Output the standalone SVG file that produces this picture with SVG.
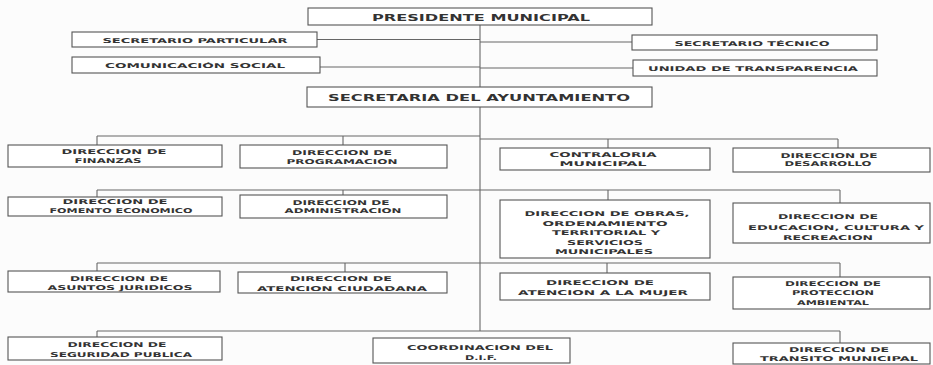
<svg xmlns="http://www.w3.org/2000/svg" width="933" height="365" viewBox="0 0 933 365">
<style>
.bx{fill:#fff;stroke:#555;stroke-width:1.1}
.ln{stroke:#666;stroke-width:1.1;fill:none}
text{font-family:"DejaVu Sans","Liberation Sans",sans-serif;font-weight:bold;fill:#333;text-anchor:middle;font-size:6.6px}
.t1{font-size:9.5px}
.t2{font-size:8.5px}
</style>
<rect width="933" height="365" fill="#fcfcfc"/>
<g id="connectors" class="ln">
<line x1="480" y1="25" x2="480" y2="331"/>
<line x1="317" y1="39.5" x2="480" y2="39.5"/>
<line x1="480" y1="42" x2="632" y2="42"/>
<line x1="320" y1="67" x2="480" y2="67"/>
<line x1="480" y1="68" x2="633" y2="68"/>
<line x1="97" y1="136" x2="480" y2="136"/>
<line x1="480" y1="139" x2="838" y2="139"/>
<line x1="97" y1="136" x2="97" y2="145"/>
<line x1="343" y1="136" x2="343" y2="145"/>
<line x1="608" y1="139" x2="608" y2="148"/>
<line x1="838" y1="139" x2="838" y2="148"/>
<line x1="97" y1="190" x2="840" y2="190"/>
<line x1="97" y1="190" x2="97" y2="197"/>
<line x1="343" y1="190" x2="343" y2="195"/>
<line x1="608" y1="190" x2="608" y2="200"/>
<line x1="840" y1="190" x2="840" y2="203"/>
<line x1="97" y1="263" x2="840" y2="263"/>
<line x1="97" y1="263" x2="97" y2="271"/>
<line x1="345" y1="263" x2="345" y2="272"/>
<line x1="607" y1="263" x2="607" y2="273"/>
<line x1="840" y1="263" x2="840" y2="277"/>
<line x1="97" y1="331" x2="840" y2="331"/>
<line x1="97" y1="331" x2="97" y2="337"/>
<line x1="840" y1="331" x2="840" y2="343"/>
</g>
<g id="presidente"><rect class="bx" x="308" y="8" width="344" height="17"/><text class="t1" x="481" y="20.5" textLength="218" lengthAdjust="spacingAndGlyphs">PRESIDENTE MUNICIPAL</text></g>
<g id="sec-particular"><rect class="bx" x="72" y="32" width="245" height="15"/><text x="195" y="42.5" textLength="185" lengthAdjust="spacingAndGlyphs">SECRETARIO PARTICULAR</text></g>
<g id="comunicacion"><rect class="bx" x="72" y="57" width="248" height="16"/><text x="195" y="68" textLength="180" lengthAdjust="spacingAndGlyphs">COMUNICACIÓN SOCIAL</text></g>
<g id="sec-tecnico"><rect class="bx" x="632" y="35" width="245" height="15"/><text x="752" y="45.5" textLength="155" lengthAdjust="spacingAndGlyphs">SECRETARIO TÉCNICO</text></g>
<g id="transparencia"><rect class="bx" x="633" y="60" width="244" height="16"/><text x="753" y="71" textLength="210" lengthAdjust="spacingAndGlyphs">UNIDAD DE TRANSPARENCIA</text></g>
<g id="sec-ayuntamiento"><rect class="bx" x="307" y="87" width="345" height="20"/><text class="t2" x="479" y="100.5" textLength="302" lengthAdjust="spacingAndGlyphs">SECRETARIA DEL AYUNTAMIENTO</text></g>
<g id="finanzas"><rect class="bx" x="8" y="145" width="214" height="22"/><text x="114" y="154" textLength="105" lengthAdjust="spacingAndGlyphs">DIRECCION DE</text><text x="108" y="163" textLength="67" lengthAdjust="spacingAndGlyphs">FINANZAS</text></g>
<g id="programacion"><rect class="bx" x="240" y="145" width="207" height="23"/><text x="342" y="155" textLength="100" lengthAdjust="spacingAndGlyphs">DIRECCION DE</text><text x="342" y="164" textLength="111" lengthAdjust="spacingAndGlyphs">PROGRAMACION</text></g>
<g id="contraloria"><rect class="bx" x="500" y="148" width="210" height="22"/><text x="603" y="157" textLength="107" lengthAdjust="spacingAndGlyphs">CONTRALORIA</text><text x="603" y="165.5" textLength="87" lengthAdjust="spacingAndGlyphs">MUNICIPAL</text></g>
<g id="desarrollo"><rect class="bx" x="733" y="148" width="197" height="24"/><text x="829" y="157.5" textLength="97" lengthAdjust="spacingAndGlyphs">DIRECCION DE</text><text x="828" y="166" textLength="87" lengthAdjust="spacingAndGlyphs">DESARROLLO</text></g>
<g id="fomento"><rect class="bx" x="8" y="197" width="214" height="19"/><text x="115" y="204" textLength="105" lengthAdjust="spacingAndGlyphs">DIRECCION DE</text><text x="121" y="212.5" textLength="143" lengthAdjust="spacingAndGlyphs">FOMENTO ECONOMICO</text></g>
<g id="administracion"><rect class="bx" x="240" y="195" width="207" height="23"/><text x="341" y="204.5" textLength="97" lengthAdjust="spacingAndGlyphs">DIRECCION DE</text><text x="343" y="213" textLength="117" lengthAdjust="spacingAndGlyphs">ADMINISTRACION</text></g>
<g id="obras"><rect class="bx" x="500" y="200" width="210" height="58"/><text x="607" y="216" textLength="165" lengthAdjust="spacingAndGlyphs">DIRECCION DE OBRAS,</text><text x="605" y="225.5" textLength="125" lengthAdjust="spacingAndGlyphs">ORDENAMIENTO</text><text x="606" y="235" textLength="108" lengthAdjust="spacingAndGlyphs">TERRITORIAL Y</text><text x="605" y="244.5" textLength="76" lengthAdjust="spacingAndGlyphs">SERVICIOS</text><text x="604" y="254" textLength="98" lengthAdjust="spacingAndGlyphs">MUNICIPALES</text></g>
<g id="educacion"><rect class="bx" x="733" y="203" width="197" height="40"/><text x="828" y="219" textLength="100" lengthAdjust="spacingAndGlyphs">DIRECCION DE</text><text x="836" y="229.5" textLength="176" lengthAdjust="spacingAndGlyphs">EDUCACION, CULTURA Y</text><text x="828" y="240" textLength="90" lengthAdjust="spacingAndGlyphs">RECREACION</text></g>
<g id="juridicos"><rect class="bx" x="8" y="271" width="212" height="21"/><text x="119" y="280.5" textLength="98" lengthAdjust="spacingAndGlyphs">DIRECCION DE</text><text x="120" y="290" textLength="145" lengthAdjust="spacingAndGlyphs">ASUNTOS JURIDICOS</text></g>
<g id="ciudadana"><rect class="bx" x="238" y="272" width="209" height="21"/><text x="341" y="281" textLength="102" lengthAdjust="spacingAndGlyphs">DIRECCION DE</text><text x="342" y="290.5" textLength="170" lengthAdjust="spacingAndGlyphs">ATENCION CIUDADANA</text></g>
<g id="mujer"><rect class="bx" x="500" y="273" width="210" height="27"/><text x="600" y="285" textLength="108" lengthAdjust="spacingAndGlyphs">DIRECCION DE</text><text x="603" y="295" textLength="170" lengthAdjust="spacingAndGlyphs">ATENCION A LA MUJER</text></g>
<g id="ambiental"><rect class="bx" x="733" y="277" width="197" height="32"/><text x="833" y="285.5" textLength="96" lengthAdjust="spacingAndGlyphs">DIRECCION DE</text><text x="833" y="295" textLength="82" lengthAdjust="spacingAndGlyphs">PROTECCION</text><text x="833" y="304.5" textLength="72" lengthAdjust="spacingAndGlyphs">AMBIENTAL</text></g>
<g id="seguridad"><rect class="bx" x="8" y="337" width="214" height="23"/><text x="117" y="347" textLength="99" lengthAdjust="spacingAndGlyphs">DIRECCION DE</text><text x="121" y="357" textLength="142" lengthAdjust="spacingAndGlyphs">SEGURIDAD PUBLICA</text></g>
<g id="dif"><rect class="bx" x="373" y="338" width="197" height="25"/><text x="480" y="350" textLength="146" lengthAdjust="spacingAndGlyphs">COORDINACION DEL</text><text x="481" y="359.5" textLength="32" lengthAdjust="spacingAndGlyphs">D.I.F.</text></g>
<g id="transito"><rect class="bx" x="733" y="343" width="197" height="21"/><text x="839" y="352" textLength="100" lengthAdjust="spacingAndGlyphs">DIRECCION DE</text><text x="839" y="361" textLength="158" lengthAdjust="spacingAndGlyphs">TRANSITO MUNICIPAL</text></g>
</svg>
